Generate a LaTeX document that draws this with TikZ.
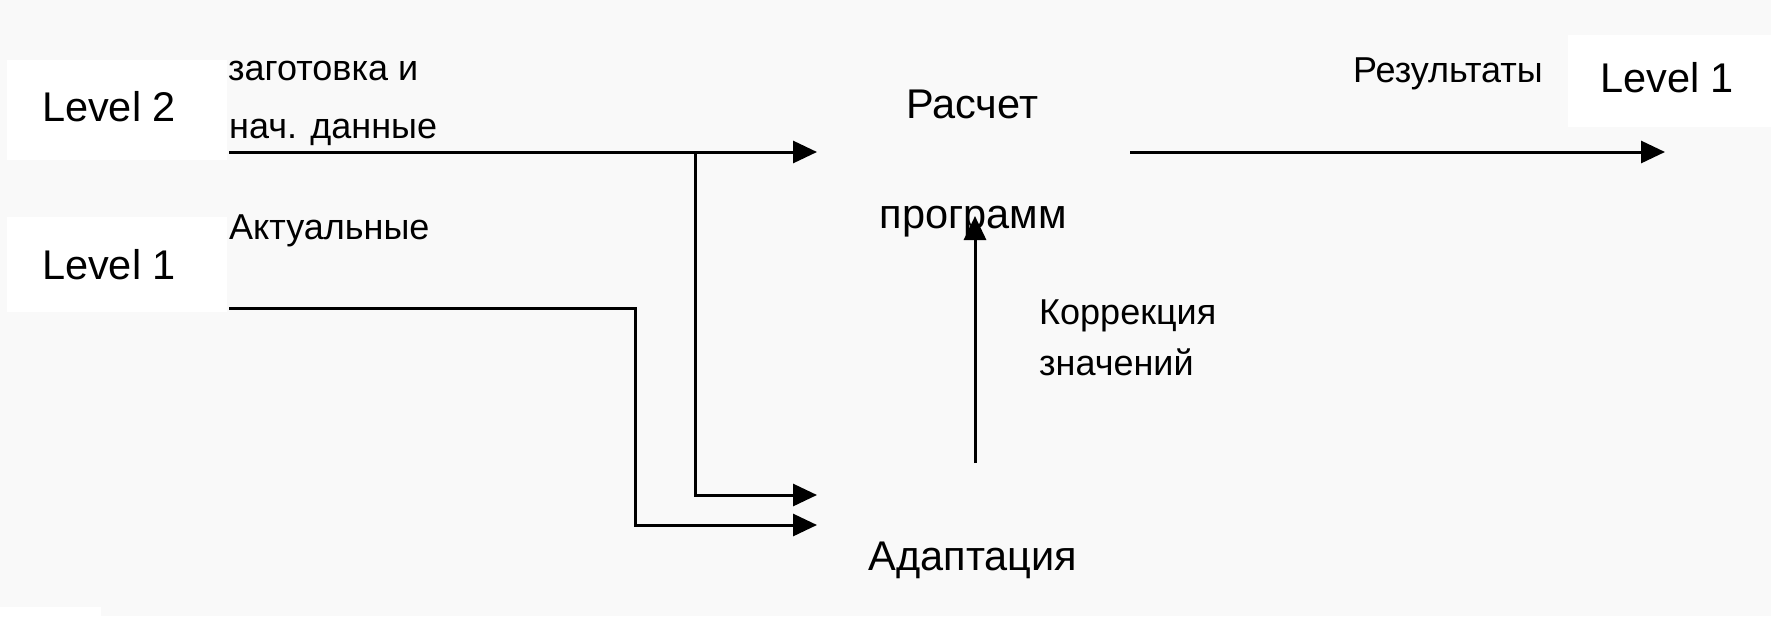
\documentclass[tikz,border=0pt]{standalone}
\usepackage{fontspec}
\setmainfont{Liberation Sans}
\usetikzlibrary{arrows.meta}
\definecolor{bgc}{HTML}{F9F9F9}
\tikzset{
  big/.style={inner sep=0pt, font=\fontsize{41.5}{49}\selectfont},
  sm/.style={inner sep=0pt, font=\fontsize{36}{42}\selectfont},
  conn/.style={line width=3pt, -{Triangle[length=24pt,width=22pt]}}
}
\begin{document}
\begin{tikzpicture}[x=1pt,y=-1pt]
\useasboundingbox (0,0) rectangle (1771,616);
\fill[bgc] (0,0) rectangle (1771,616);
\fill[white] (0,607) rectangle (101,616);
\fill[white] (7,60) rectangle (227,160);
\fill[white] (7,217) rectangle (227,312);
\fill[white] (1568,35) rectangle (1771,127);

% texts
\node[big, anchor=base] (l2) at (109,121) {Level 2};
\node[big, anchor=base] (l1a) at (109,279) {Level 1};
\node[sm, anchor=base west] (zag) at (228,80) {заготовка и};
\node[sm, anchor=base west] (nach) at (229,138) {нач. данные};
\node[sm, anchor=base west] (akt) at (229,239) {Актуальные};
\node[big, anchor=base] (ras) at (972,118) {Расчет};
\node[big, anchor=base] (prog) at (973,228) {программ};
\node[sm, anchor=base west] (kor) at (1039,324) {Коррекция};
\node[sm, anchor=base west] (zn) at (1039,375) {значений};
\node[big, anchor=base] (ad) at (973,570) {Адаптация};
\node[sm, anchor=base] (res) at (1448,82) {Результаты};
\node[big, anchor=base] (l1b) at (1667,92) {Level 1};

% connector end points
\coordinate (s2) at (229,152);
\coordinate (t2) at (817,152);
\coordinate (b1) at (695,152);
\coordinate (b1d) at (695,495);
\coordinate (a1) at (817,495);
\coordinate (s1) at (229,308);
\coordinate (c1) at (635,308);
\coordinate (c1d) at (635,525);
\coordinate (a2) at (817,525);
\coordinate (vb) at (975,463);
\coordinate (vt) at (975,216);
\coordinate (rs) at (1130,152);
\coordinate (rt) at (1665,152);

% connectors
\draw[conn] (s2) -- (t2);
\draw[conn] (b1) -- (b1d) -- (a1);
\draw[conn] (s1) -- (c1) -- (c1d) -- (a2);
\draw[conn] (vb) -- (vt);
\draw[conn] (rs) -- (rt);
\end{tikzpicture}
\end{document}
